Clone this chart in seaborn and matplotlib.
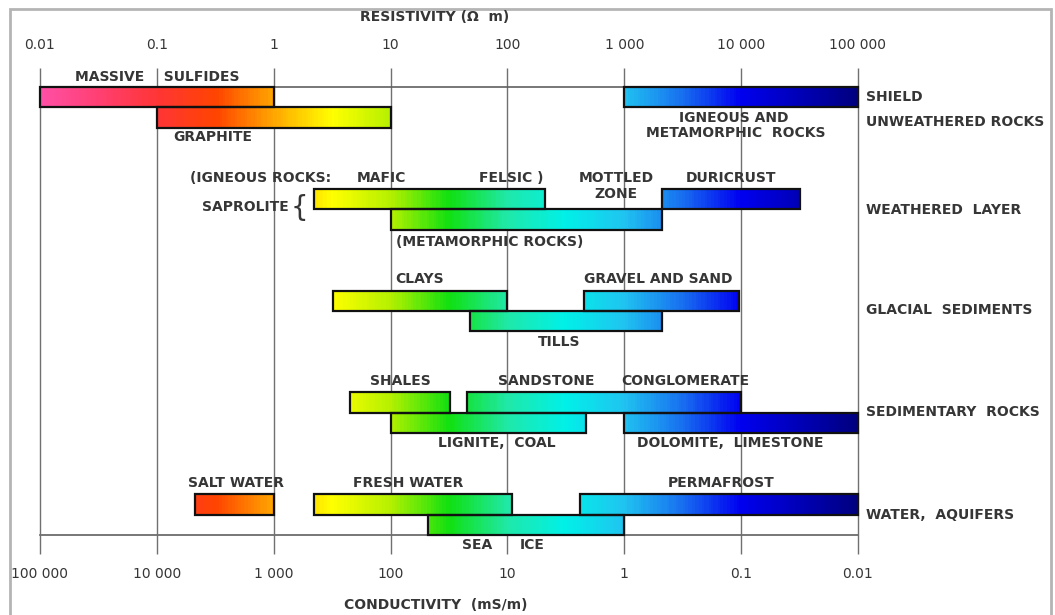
import numpy as np
import seaborn as sns
import matplotlib
matplotlib.use("Agg")
from matplotlib import pyplot as plt
from matplotlib.colors import Normalize
from matplotlib.patches import Rectangle

# resistivity ranges (ohm m); slot = bar row from the top, two per group
materials = ["MASSIVE SULFIDES", "GRAPHITE", "IGNEOUS AND METAMORPHIC ROCKS",
             "SAPROLITE (IGNEOUS)", "SAPROLITE (METAMORPHIC)", "DURICRUST",
             "CLAYS", "GRAVEL AND SAND", "TILLS",
             "SHALES", "SANDSTONE, CONGLOMERATE", "LIGNITE, COAL", "DOLOMITE, LIMESTONE",
             "SALT WATER", "FRESH WATER", "PERMAFROST", "SEA ICE"]
res_low = [0.01, 0.1, 1000, 2.2, 10, 2100, 3.2, 450, 48, 4.5, 45, 10, 1000, 0.21, 2.2, 420, 21]
res_high = [1, 10, 100000, 210, 2100, 32000, 100, 9500, 2100, 32, 10000, 470, 100000, 1, 110, 100000, 1000]
slots = [0, 1, 0, 2, 3, 2, 4, 4, 5, 6, 6, 7, 7, 8, 8, 8, 9]

groups = ["SHIELD", "UNWEATHERED ROCKS", "WEATHERED  LAYER", "GLACIAL  SEDIMENTS",
          "SEDIMENTARY  ROCKS", "WATER,  AQUIFERS"]
group_y = [0.5, 1.7, 6.05, 10.95, 15.95, 21.0]

res_ticks = [0.01, 0.1, 1, 10, 100, 1000, 10000, 100000]
res_tick_labels = ["0.01", "0.1", "1", "10", "100", "1 000", "10 000", "100 000"]
cond_ticks = [100000, 10000, 1000, 100, 10, 1, 0.1, 0.01]
cond_tick_labels = ["100 000", "10 000", "1 000", "100", "10", "1", "0.1", "0.01"]

# colour ramp every half decade from 0.01 to 100 000 ohm m
ramp = ["#ff4fa6", "#ff3f70", "#ff3535", "#ff4400", "#ffa800", "#ffff00", "#b4f000",
        "#10e010", "#20e8a8", "#00f0e8", "#20c4f0", "#1870f0", "#0000f0", "#0000b8", "#000080"]

# (text, log10 resistivity, row, ha)
notes = [
    ("MASSIVE    SULFIDES", -1.0, -0.5, "center"),
    ("GRAPHITE", -0.52, 2.45, "center"),
    ("IGNEOUS AND", 3.94, 1.5, "center"),
    ("METAMORPHIC  ROCKS", 3.95, 2.28, "center"),
    ("(IGNEOUS ROCKS:", -0.72, 4.45, "left"),
    ("MAFIC", 0.92, 4.45, "center"),
    ("FELSIC )", 2.03, 4.45, "center"),
    ("MOTTLED", 2.93, 4.45, "center"),
    ("ZONE", 2.93, 5.25, "center"),
    ("DURICRUST", 3.91, 4.45, "center"),
    ("SAPROLITE", 0.13, 5.9, "right"),
    ("(METAMORPHIC ROCKS)", 1.05, 7.6, "left"),
    ("CLAYS", 1.25, 9.45, "center"),
    ("GRAVEL AND SAND", 3.29, 9.45, "center"),
    ("TILLS", 2.44, 12.5, "center"),
    ("SHALES", 1.08, 14.45, "center"),
    ("SANDSTONE", 2.33, 14.45, "center"),
    ("CONGLOMERATE", 3.52, 14.45, "center"),
    ("LIGNITE,  COAL", 1.91, 17.5, "center"),
    ("DOLOMITE,  LIMESTONE", 3.91, 17.5, "center"),
    ("SALT WATER", -0.32, 19.45, "center"),
    ("FRESH WATER", 1.15, 19.45, "center"),
    ("PERMAFROST", 3.83, 19.45, "center"),
    ("SEA", 1.74, 22.5, "center"),
    ("ICE", 2.21, 22.5, "center"),
]

sns.set_theme(style="white")
plt.rcParams["font.family"] = ["DejaVu Sans"]
ink = "#363636"
txt = dict(fontsize=10, fontweight="bold", color=ink)

cmap = sns.blend_palette(ramp, as_cmap=True)
norm = Normalize(-2, 5)

fig = plt.figure(figsize=(10.55, 6.15), dpi=100)
ax = fig.add_axes([40 / 1055, 1 - 535 / 615, 818 / 1055, 448 / 615])
ax.set_xscale("log")
ax.set_xlim(0.01, 100000)
ax.set_ylim(22, 0)

for t in res_ticks:
    ax.axvline(t, color="#707070", lw=1.0, zorder=1, clip_on=False)

for lo, hi, s in zip(res_low, res_high, slots):
    top = (s // 2) * 5 + s % 2
    edges = np.logspace(np.log10(lo), np.log10(hi), 120)
    mids = (np.log10(edges[:-1]) + np.log10(edges[1:])) / 2
    ax.pcolormesh(edges, [top, top + 1], mids[None, :], cmap=cmap, norm=norm,
                  shading="flat", zorder=2)
    ax.add_patch(Rectangle((lo, top), hi - lo, 1, fill=False, edgecolor="#111111",
                           lw=1.6, zorder=3, clip_on=False))

for text, lx, y, ha in notes:
    ax.text(10 ** lx, y, text, ha=ha, va="center", zorder=4, **txt)
ax.text(10 ** 0.22, 5.95, "{", ha="center", va="center", fontsize=20, color=ink)

for name, y in zip(groups, group_y):
    ax.text(1.01, y, name, transform=ax.get_yaxis_transform(), ha="left",
            va="center", **txt)

ax.yaxis.set_visible(False)
for side in ["left", "right", "bottom"]:
    ax.spines[side].set_visible(False)
ax.spines["top"].set_color("#606060")
ax.spines["top"].set_linewidth(1.2)

ax.xaxis.tick_top()
ax.set_xticks(res_ticks)
ax.set_xticklabels(res_tick_labels)
ax.xaxis.set_minor_locator(matplotlib.ticker.NullLocator())
ax.tick_params(axis="x", direction="out", length=14, width=1.0, color="#707070",
               pad=11, labelsize=10, labelcolor=ink)

sec = ax.secondary_xaxis("bottom", functions=(lambda r: 1000.0 / np.asarray(r, float),
                                              lambda c: 1000.0 / np.asarray(c, float)))
sec.set_xticks(cond_ticks)
sec.set_xticklabels(cond_tick_labels)
sec.xaxis.set_minor_locator(matplotlib.ticker.NullLocator())
sec.tick_params(axis="x", direction="out", length=14, width=1.0, color="#707070",
                pad=9, labelsize=10, labelcolor=ink)
sec.spines["bottom"].set_color("#606060")
sec.spines["bottom"].set_linewidth(1.2)

fig.text(435 / 1055, 1 - 17 / 615, "RESISTIVITY (Ω  m)", ha="center", va="center", **txt)
fig.text(436 / 1055, 1 - 605 / 615, "CONDUCTIVITY  (mS/m)", ha="center", va="center", **txt)

fig.patches.append(Rectangle((10 / 1055, -0.02), 1041 / 1055, 1.02 - 9 / 615,
                             transform=fig.transFigure, fill=False,
                             edgecolor="#b4b4b4", lw=2))

fig.savefig("out.png", dpi=100)
